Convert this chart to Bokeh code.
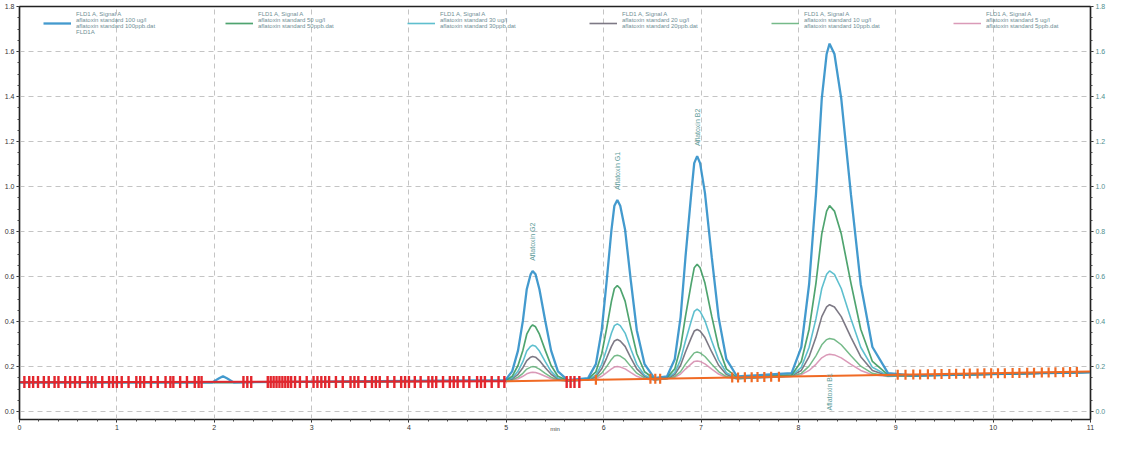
import numpy as np
from bokeh.plotting import figure
from bokeh.models import Range1d, LinearAxis, Legend, LegendItem, FixedTicker, PrintfTickFormatter
from bokeh.core.properties import value
from bokeh.embed import file_html
from bokeh.resources import INLINE

# ---------------- data ----------------
time_min = [0.0, 1.98, 2.05, 2.09, 2.13, 2.20,
            4.99, 5.06, 5.12, 5.17, 5.21, 5.25, 5.27, 5.30, 5.34, 5.40, 5.46, 5.53, 5.63,
            5.84, 5.92, 5.98, 6.03, 6.08, 6.11, 6.14, 6.17, 6.22, 6.28, 6.34, 6.42, 6.52,
            6.65, 6.73, 6.79, 6.84, 6.90, 6.93, 6.96, 6.99, 7.04, 7.11, 7.18, 7.26, 7.37,
            7.93, 8.03, 8.11, 8.18, 8.24, 8.29, 8.32, 8.37, 8.44, 8.54, 8.64, 8.76, 8.92,
            9.20, 11.0]

std_100 = [0.13, 0.13, 0.148, 0.157, 0.148, 0.13,
           0.140, 0.179, 0.271, 0.403, 0.544, 0.610, 0.625, 0.610, 0.544, 0.403, 0.271, 0.179, 0.140,
           0.149, 0.211, 0.362, 0.577, 0.808, 0.915, 0.940, 0.915, 0.808, 0.577, 0.362, 0.211, 0.149,
           0.156, 0.233, 0.420, 0.686, 0.972, 1.104, 1.135, 1.104, 0.972, 0.686, 0.420, 0.233, 0.156,
           0.171, 0.287, 0.566, 0.963, 1.391, 1.589, 1.635, 1.589, 1.391, 0.963, 0.566, 0.287, 0.171,
           0.160, 0.175]
std_50 = [0.13, 0.13, 0.13, 0.13, 0.13, 0.13,
          0.138, 0.157, 0.205, 0.272, 0.344, 0.377, 0.385, 0.377, 0.344, 0.272, 0.205, 0.157, 0.138,
          0.145, 0.177, 0.257, 0.369, 0.491, 0.547, 0.560, 0.547, 0.491, 0.369, 0.257, 0.177, 0.145,
          0.151, 0.190, 0.287, 0.423, 0.571, 0.639, 0.655, 0.639, 0.571, 0.423, 0.287, 0.190, 0.151,
          0.163, 0.223, 0.366, 0.570, 0.790, 0.891, 0.915, 0.891, 0.790, 0.570, 0.366, 0.223, 0.163,
          0.160, 0.175]
std_30 = [0.13, 0.13, 0.13, 0.13, 0.13, 0.13,
          0.137, 0.149, 0.179, 0.222, 0.269, 0.290, 0.295, 0.290, 0.269, 0.222, 0.179, 0.149, 0.137,
          0.143, 0.162, 0.210, 0.277, 0.349, 0.382, 0.390, 0.382, 0.349, 0.277, 0.210, 0.162, 0.143,
          0.148, 0.173, 0.231, 0.314, 0.404, 0.445, 0.455, 0.445, 0.404, 0.314, 0.231, 0.173, 0.148,
          0.160, 0.197, 0.286, 0.412, 0.547, 0.610, 0.625, 0.610, 0.547, 0.412, 0.286, 0.197, 0.160,
          0.160, 0.175]
std_20 = [0.13, 0.13, 0.13, 0.13, 0.13, 0.13,
          0.136, 0.145, 0.166, 0.195, 0.227, 0.242, 0.245, 0.242, 0.227, 0.195, 0.166, 0.145, 0.136,
          0.142, 0.156, 0.190, 0.238, 0.290, 0.314, 0.320, 0.314, 0.290, 0.238, 0.190, 0.156, 0.142,
          0.147, 0.165, 0.206, 0.265, 0.329, 0.358, 0.365, 0.358, 0.329, 0.265, 0.206, 0.165, 0.147,
          0.159, 0.183, 0.244, 0.330, 0.422, 0.465, 0.475, 0.465, 0.422, 0.330, 0.244, 0.183, 0.159,
          0.160, 0.175]
std_10 = [0.13, 0.13, 0.13, 0.13, 0.13, 0.13,
          0.136, 0.141, 0.153, 0.170, 0.189, 0.198, 0.200, 0.198, 0.189, 0.170, 0.153, 0.141, 0.136,
          0.141, 0.150, 0.171, 0.200, 0.232, 0.247, 0.250, 0.247, 0.232, 0.200, 0.171, 0.150, 0.141,
          0.146, 0.156, 0.178, 0.211, 0.245, 0.261, 0.265, 0.261, 0.245, 0.211, 0.178, 0.156, 0.146,
          0.157, 0.170, 0.202, 0.248, 0.297, 0.320, 0.325, 0.320, 0.297, 0.248, 0.202, 0.170, 0.157,
          0.160, 0.175]
std_5 = [0.13, 0.13, 0.13, 0.13, 0.13, 0.13,
         0.135, 0.139, 0.146, 0.157, 0.168, 0.174, 0.175, 0.174, 0.168, 0.157, 0.146, 0.139, 0.135,
         0.141, 0.145, 0.157, 0.173, 0.190, 0.198, 0.200, 0.198, 0.190, 0.173, 0.157, 0.145, 0.141,
         0.146, 0.152, 0.167, 0.189, 0.212, 0.223, 0.225, 0.223, 0.212, 0.189, 0.167, 0.152, 0.146,
         0.156, 0.164, 0.183, 0.210, 0.239, 0.252, 0.255, 0.252, 0.239, 0.210, 0.183, 0.164, 0.156,
         0.160, 0.175]

series_labels = [
    "FLD1 A, Signal A\naflatoxin standard 100 ug/l\naflatoxin standard 100ppb.dat\nFLD1A",
    "FLD1 A, Signal A\naflatoxin standard 50 ug/l\naflatoxin standard 50ppb.dat\n ",
    "FLD1 A, Signal A\naflatoxin standard 30 ug/l\naflatoxin standard 30ppb.dat\n ",
    "FLD1 A, Signal A\naflatoxin standard 20 ug/l\naflatoxin standard 20ppb.dat\n ",
    "FLD1 A, Signal A\naflatoxin standard 10 ug/l\naflatoxin standard 10ppb.dat\n ",
    "FLD1 A, Signal A\naflatoxin standard 5 ug/l\naflatoxin standard 5ppb.dat\n ",
]

peak_names = ["Aflatoxin G2", "Aflatoxin G1", "Aflatoxin B2", "Aflatoxin B1"]
peak_rt = [5.27, 6.14, 6.96, 8.32]
peak_apex = [0.625, 0.940, 1.135, 1.635]
label_above = [True, True, True, False]

baseline_red_t = [0.0, 5.0]
baseline_red_y = [0.130, 0.135]
baseline_orange_t = [5.0, 11.0]
baseline_orange_y = [0.135, 0.178]

red_marks_t = [0.05, 0.10, 0.14, 0.19, 0.25, 0.30, 0.36, 0.40, 0.47, 0.52, 0.57, 0.62, 0.70,
               0.74, 0.78, 0.85, 0.92, 0.96, 1.00, 1.05, 1.12, 1.20, 1.24, 1.28, 1.35, 1.42,
               1.50, 1.55, 1.58, 1.65, 1.72, 1.80, 1.84, 1.87, 2.30, 2.34, 2.38, 2.55, 2.58,
               2.61, 2.64, 2.67, 2.70, 2.73, 2.76, 2.79, 2.83, 2.88, 2.95, 3.02, 3.06, 3.10,
               3.14, 3.18, 3.25, 3.32, 3.40, 3.44, 3.48, 3.55, 3.62, 3.66, 3.70, 3.78, 3.85,
               3.92, 3.96, 4.00, 4.06, 4.12, 4.20, 4.24, 4.28, 4.35, 4.42, 4.46, 4.50, 4.56,
               4.62, 4.70, 4.74, 4.78, 4.85, 4.92, 4.98, 5.62, 5.66, 5.70, 5.75]
red_marks_level = 0.132

orange_marks_t = [5.92, 6.48, 6.53, 6.58, 7.32, 7.38, 7.45, 7.52, 7.58, 7.65, 7.72, 7.80,
                  9.02, 9.10, 9.18, 9.25, 9.33, 9.40, 9.47, 9.55, 9.62, 9.70, 9.76, 9.84,
                  9.91, 9.98, 10.05, 10.12, 10.20, 10.27, 10.35, 10.42, 10.50, 10.57,
                  10.64, 10.72, 10.79, 10.86]
orange_marks_y = [0.142, 0.146, 0.146, 0.146, 0.152, 0.152, 0.153, 0.153, 0.154, 0.154, 0.155, 0.155,
                  0.164, 0.164, 0.165, 0.165, 0.166, 0.166, 0.167, 0.167, 0.168, 0.168, 0.169, 0.169,
                  0.170, 0.170, 0.171, 0.171, 0.172, 0.172, 0.173, 0.173, 0.174, 0.174,
                  0.175, 0.175, 0.176, 0.176]

x_ticks = list(range(0, 12))
y_ticks = [0.0, 0.2, 0.4, 0.6, 0.8, 1.0, 1.2, 1.4, 1.6, 1.8]

# ---------------- styling ----------------
colors = ["#2f8fc9", "#3c9a5f", "#4db8c9", "#6f6a78", "#66b27c", "#d68fb0"]
widths = [2.3, 1.7, 1.6, 1.6, 1.5, 1.5]
FONT = "Liberation Sans"

p = figure(width=1109, height=434, output_backend="svg", toolbar_location=None,
           x_range=Range1d(0, 11), y_range=Range1d(-0.035, 1.8),
           min_border_left=19, min_border_right=19, min_border_top=6, min_border_bottom=14)
p.background_fill_color = "white"
p.border_fill_color = "white"
p.outline_line_color = "#222222"
p.outline_line_width = 1.5

series = [std_100, std_50, std_30, std_20, std_10, std_5]
renderers = []
for ys, c, w in zip(series[::-1], colors[::-1], widths[::-1]):
    renderers.append(p.line(time_min, ys, line_color=c, line_width=w, line_alpha=0.9))
renderers = renderers[::-1]

# baseline and integration marks
p.line(baseline_red_t, baseline_red_y, line_color="#e3262d", line_width=2)
p.line(baseline_orange_t, baseline_orange_y, line_color="#f06a24", line_width=2)
p.scatter(red_marks_t, red_marks_level, marker="dash", angle=np.pi / 2, size=12,
          line_color="#e3262d", line_width=2.4)
p.scatter(orange_marks_t, orange_marks_y, marker="dash", angle=np.pi / 2, size=10,
          line_color="#f06a24", line_width=2.2)

# peak labels
lab_x = []
lab_y = []
for rt, ap, above in zip(peak_rt, peak_apex, label_above):
    lab_x.append(rt)
    lab_y.append(ap + 0.045 if above else 0.005)
p.text(lab_x, lab_y, text=peak_names, angle=np.pi / 2, text_align="left",
       text_baseline="middle", text_font_size="7px", text_color="#5e9c9a",
       text_font=value(FONT))

# axes
xt = FixedTicker(ticks=x_ticks, minor_ticks=[i * 0.2 for i in range(56)])
yt = FixedTicker(ticks=y_ticks, minor_ticks=[i * 0.05 for i in range(37)])
p.xaxis.ticker = xt
p.yaxis.ticker = yt
p.xgrid.ticker = xt
p.ygrid.ticker = yt
for g in (p.xgrid, p.ygrid):
    g.grid_line_color = "#c4c4c4"
    g.grid_line_dash = "5 4"
    g.grid_line_width = 1

right_axis = LinearAxis(ticker=yt)
p.add_layout(right_axis, "right")

for ax in p.axis:
    ax.major_label_text_font_size = "7px"
    ax.major_label_text_font = FONT
    ax.major_label_text_color = "#333333"
    ax.axis_line_color = "#222222"
    ax.axis_line_width = 1.2
    ax.major_tick_line_color = "#222222"
    ax.minor_tick_line_color = "#444444"
    ax.major_tick_out = 3
    ax.major_tick_in = 0
    ax.minor_tick_out = 2
    ax.minor_tick_in = 0
    ax.major_label_standoff = 2
p.yaxis[0].formatter = PrintfTickFormatter(format="%.1f")
right_axis.formatter = PrintfTickFormatter(format="%.1f")
right_axis.major_label_text_color = "#4f8f8f"

p.xaxis.axis_label = "min"
p.xaxis.axis_label_text_font_size = "6px"
p.xaxis.axis_label_text_font = FONT
p.xaxis.axis_label_text_font_style = "normal"
p.xaxis.axis_label_text_color = "#444444"
p.xaxis.axis_label_standoff = -7

# legend
legend = Legend(items=[LegendItem(label=lbl, renderers=[r]) for lbl, r in zip(series_labels, renderers)],
                orientation="horizontal", location=(22, 382),
                background_fill_alpha=0, border_line_alpha=0,
                label_text_font_size="6px", label_text_font=FONT,
                label_text_color="#6f8f96", label_text_line_height=1.0,
                glyph_width=28, glyph_height=12, label_standoff=5,
                spacing=9, label_width=140, padding=2, margin=0)
p.add_layout(legend)

open("out.html", "w").write(file_html(p, INLINE))
